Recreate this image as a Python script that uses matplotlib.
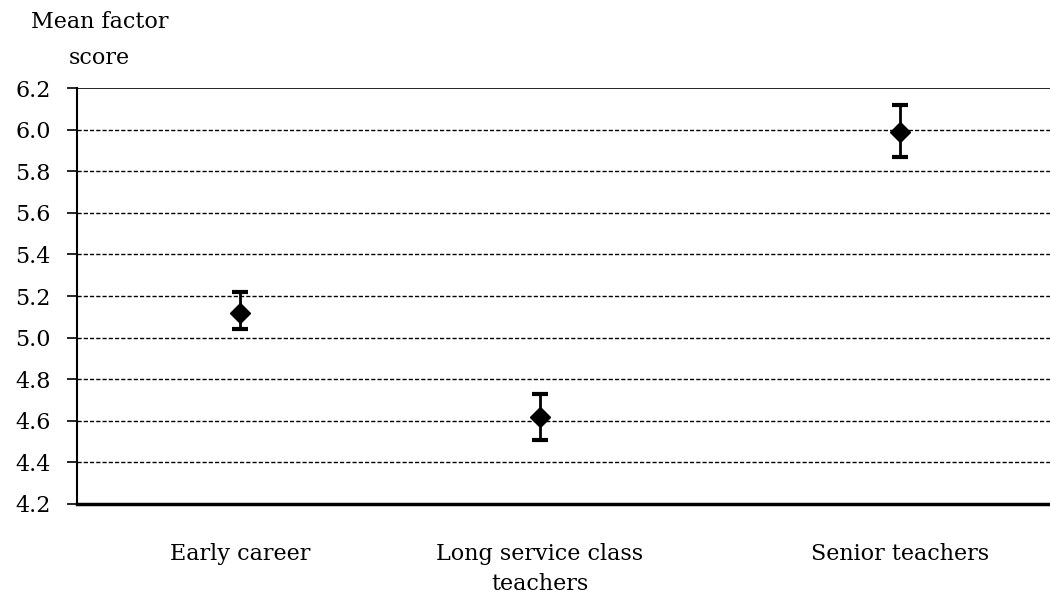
import matplotlib.pyplot as plt
import numpy as np

# mean factor score by career group, with interval ends
groups = ['Early career', 'Long service class\nteachers', 'Senior teachers']
group_pos = [0.0, 1.0, 2.2]
means = [5.12, 4.62, 5.99]
upper = [5.22, 4.73, 6.12]
lower = [5.04, 4.51, 5.87]
yticks = [4.2, 4.4, 4.6, 4.8, 5.0, 5.2, 5.4, 5.6, 5.8, 6.0, 6.2]

plt.rcParams['font.family'] = ['DejaVu Serif', 'Liberation Serif']
fs = 16

fig = plt.figure(figsize=(10.5, 5.96), dpi=100)
ax = fig.add_axes([0.0733, 0.1544, 0.9267, 0.6979])

means = np.array(means)
err = [means - np.array(lower), np.array(upper) - means]
ax.errorbar(group_pos, means, yerr=err, fmt='D', color='black', ms=10,
            elinewidth=2, capsize=6, capthick=3, zorder=3)

ax.set_ylim(4.2, 6.2)
ax.set_xlim(-0.543, 2.7)
ax.set_yticks(yticks)
ax.set_yticklabels(['%.1f' % v for v in yticks], fontsize=fs)
for v in yticks[1:-1]:
    ax.axhline(v, color='black', lw=1, ls=(0, (3, 1.5)), zorder=1)
ax.axhline(6.2, color='black', lw=1.2, zorder=1)

ax.set_xticks(group_pos)
ax.set_xticklabels(groups, fontsize=fs, linespacing=1.45, va='top')
ax.tick_params(axis='x', length=0, pad=28)
ax.tick_params(axis='y', length=7, width=1.2, pad=12)

for s in ['top', 'right']:
    ax.spines[s].set_visible(False)
ax.spines['left'].set_linewidth(1.5)
ax.spines['bottom'].set_linewidth(2.5)

fig.text(0.095, 0.963, 'Mean factor', fontsize=fs, ha='center', va='center')
fig.text(0.095, 0.903, 'score', fontsize=fs, ha='center', va='center')

fig.savefig('out.png', dpi=100)
